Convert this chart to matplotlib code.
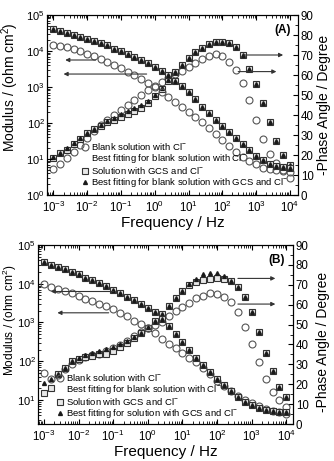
import numpy as np
import matplotlib.pyplot as plt
from matplotlib.lines import Line2D
from matplotlib.ticker import LogLocator, NullFormatter, MultipleLocator

plt.rcParams['font.family'] = ['Liberation Sans', 'DejaVu Sans']
plt.rcParams['mathtext.fontset'] = 'custom'
plt.rcParams['mathtext.rm'] = 'Liberation Sans'
plt.rcParams['mathtext.it'] = 'Liberation Sans:italic'
plt.rcParams['mathtext.bf'] = 'Liberation Sans:bold'
plt.rcParams['mathtext.default'] = 'regular'

# log10 of frequency (Hz), 5 points per decade
log_f = [-3.0, -2.8, -2.6, -2.4, -2.2, -2.0, -1.8, -1.6, -1.4, -1.2,
         -1.0, -0.8, -0.6, -0.4, -0.2, 0.0, 0.2, 0.4, 0.6, 0.8,
         1.0, 1.2, 1.4, 1.6, 1.8, 2.0, 2.2, 2.4, 2.6, 2.8,
         3.0, 3.2, 3.4, 3.6, 3.8, 4.0]
x_ticks = [1e-3, 1e-2, 1e-1, 1e0, 1e1, 1e2, 1e3, 1e4]

# ---- panel A ----  (modulus as log10 |Z|, phase in degrees)
a_blank_mod = [4.17, 4.14, 4.10, 4.06, 4.01, 3.93, 3.86, 3.78, 3.70, 3.61,
               3.52, 3.43, 3.33, 3.22, 3.11, 3.00, 2.87, 2.72, 2.58, 2.45,
               2.31, 2.18, 2.02, 1.85, 1.69, 1.53, 1.37, 1.20, 1.06, 0.94,
               0.85, 0.76, 0.72, 0.69, 0.67, 0.65]
a_blank_ph = [13.0, 15.3, 18.3, 21.3, 25.0, 28.5, 32.0, 35.0, 37.5, 40.0,
              42.5, 45.0, 47.5, 50.0, 52.5, 54.5, 56.5, 58.5, 60.5, 62.0,
              64.0, 66.0, 68.0, 69.5, 70.3, 69.5, 66.7, 62.5, 56.0, 47.5,
              37.3, 28.0, 20.4, 15.8, 12.5, 8.5]
a_gcs_mod = [4.60, 4.55, 4.50, 4.44, 4.39, 4.33, 4.28, 4.21, 4.16, 4.06,
             4.00, 3.92, 3.84, 3.75, 3.66, 3.55, 3.44, 3.33, 3.18, 3.02,
             2.85, 2.66, 2.45, 2.27, 2.08, 1.92, 1.74, 1.57, 1.41, 1.24,
             1.08, 0.96, 0.86, 0.80, 0.78, 0.75]
a_gcs_ph = [18.5, 20.8, 22.5, 25.5, 28.0, 30.8, 32.8, 34.7, 36.3, 37.5,
            39.2, 40.5, 41.8, 43.5, 46.0, 49.5, 53.0, 57.0, 61.5, 65.0,
            68.5, 71.5, 73.7, 75.5, 76.5, 76.5, 75.8, 74.0, 70.0, 63.0,
            55.5, 46.0, 36.5, 27.0, 20.0, 15.0]
a_fit_mod = a_gcs_mod
a_fit_ph = [19.0, 21.0, 23.5, 26.0, 28.5, 31.0, 33.0, 35.0, 36.8, 38.5,
            40.5, 42.0, 43.5, 45.0, 47.0, 50.0, 53.5, 57.5, 61.5, 65.0,
            68.5, 71.5, 73.7, 75.5, 76.5, 76.5, 75.8, 74.0, 70.0, 63.0,
            55.5, 46.0, 36.5, 27.0, 20.0, 15.0]
a_y_ticks = [1e0, 1e1, 1e2, 1e3, 1e4, 1e5]

# ---- panel B ----
b_blank_mod = [3.99, 3.92, 3.86, 3.81, 3.75, 3.68, 3.61, 3.55, 3.49, 3.42,
               3.34, 3.25, 3.16, 3.04, 2.95, 2.86, 2.72, 2.58, 2.45, 2.33,
               2.22, 2.09, 1.97, 1.83, 1.66, 1.50, 1.35, 1.22, 1.10, 1.00,
               0.91, 0.84, 0.77, 0.72, 0.68, 0.64]
b_blank_ph = [25.5, 22.5, 24.5, 27.5, 30.0, 32.0, 33.5, 34.5, 35.3, 36.5,
              38.0, 39.5, 41.5, 44.0, 46.5, 48.5, 50.0, 51.5, 54.3, 56.8,
              59.0, 61.0, 63.2, 64.5, 65.7, 65.5, 64.0, 61.5, 56.5, 49.0,
              40.0, 31.0, 22.5, 16.0, 12.0, 8.5]
b_gcs_mod = [4.55, 4.49, 4.44, 4.37, 4.31, 4.24, 4.16, 4.09, 4.02, 3.94,
             3.85, 3.76, 3.67, 3.57, 3.47, 3.38, 3.26, 3.10, 2.90, 2.70,
             2.50, 2.29, 2.08, 1.89, 1.72, 1.55, 1.39, 1.22, 1.07, 0.96,
             0.87, 0.79, 0.75, 0.72, 0.70, 0.70]
b_gcs_ph = [15.8, 17.9, 25.0, 28.0, 31.5, 32.5, 33.8, 34.2, 35.0, 35.3,
            36.5, 38.5, 40.5, 43.0, 45.6, 48.5, 52.0, 55.5, 59.5, 63.5,
            67.0, 69.8, 71.5, 72.5, 73.0, 73.3, 73.0, 72.0, 69.0, 63.7,
            56.4, 46.5, 35.5, 26.6, 18.7, 13.7]
b_fit_mod = b_gcs_mod
b_fit_ph = [20.8, 22.5, 25.0, 28.0, 31.5, 33.0, 34.5, 35.5, 36.5, 37.5,
            38.5, 40.0, 41.5, 43.5, 46.0, 49.0, 52.0, 55.5, 59.5, 63.5,
            67.0, 70.5, 73.0, 75.5, 76.0, 75.8, 74.5, 72.0, 69.0, 63.7,
            56.4, 46.5, 35.5, 26.6, 18.7, 13.7]
b_y_ticks = [1e1, 1e2, 1e3, 1e4, 1e5]

labels_a = [r'Blank solution with Cl$^{-}$',
            r'Best fitting for blank solution with Cl$^{-}$',
            r'Solution with GCS and Cl$^{-}$',
            r'Best fitting for blank solution with GCS and Cl$^{-}$']
labels_b = [r'Blank solution with Cl$^{-}$',
            r'Best fitting for blank solution with Cl$^{-}$',
            r'Solution with GCS and Cl$^{-}$',
            r'Best fitting for solution with GCS and Cl$^{-}$']

c_circ = '#555555'
c_sq = '#333333'
c_tri = '#1a1a1a'
freq = 10.0 ** np.array(log_f)


def panel(ax, blank_mod, blank_ph, gcs_mod, gcs_ph, fit_mod, fit_ph,
          labels, tag, ylim, yticks, xlim, arrows_l, arrows_r, leg_anchor,
          ylab_pos, ylab_size, y2lab_pos):
    ax2 = ax.twinx()
    ax.set_zorder(ax2.get_zorder() + 1)
    ax.patch.set_visible(False)

    ax.plot(freq, 10.0 ** np.array(blank_mod), 'o', mfc='none', mec=c_circ, ms=5, mew=0.8)
    ax2.plot(freq, blank_ph, 'o', mfc='none', mec=c_circ, ms=5, mew=0.8)
    ax.plot(freq, 10.0 ** np.array(gcs_mod), 's', mfc='#e8e8e8', mec=c_sq, ms=4.3, mew=0.8)
    ax2.plot(freq, gcs_ph, 's', mfc='#e8e8e8', mec=c_sq, ms=4.3, mew=0.8)
    ax.plot(freq, 10.0 ** np.array(fit_mod), '^', color=c_tri, ms=2.8)
    ax2.plot(freq, fit_ph, '^', color=c_tri, ms=2.8)

    ax.set_xscale('log')
    ax.set_yscale('log')
    ax.set_xticks(x_ticks)
    ax.set_yticks(yticks)
    ax.set_xlim(*xlim)
    ax.set_ylim(*ylim)
    ax2.set_ylim(0, 90)
    ax.xaxis.set_minor_locator(LogLocator(base=10, subs=np.arange(2, 10), numticks=20))
    ax.xaxis.set_minor_formatter(NullFormatter())
    ax.yaxis.set_minor_locator(LogLocator(base=10, subs=np.arange(2, 10), numticks=20))
    ax.yaxis.set_minor_formatter(NullFormatter())
    ax2.yaxis.set_major_locator(MultipleLocator(10))
    ax2.yaxis.set_minor_locator(MultipleLocator(5))

    ax.tick_params(which='both', direction='in', top=True, labelsize=8.3, pad=2)
    ax.tick_params(axis='y', labelsize=8, pad=1.5)
    ax.tick_params(axis='x', pad=3.5)
    ax.tick_params(which='major', length=3.5)
    ax.tick_params(which='minor', length=2)
    ax2.tick_params(which='both', direction='in', labelsize=8.3, pad=2)
    ax2.tick_params(which='major', length=3.5)
    ax2.tick_params(which='minor', length=2)

    ax.set_xlabel('Frequency / Hz', fontsize=11, labelpad=1)
    ax.set_ylabel(r'Modulus / (ohm cm$^{2}$)', fontsize=ylab_size)
    ax.yaxis.set_label_coords(*ylab_pos)
    ax2.set_ylabel('-Phase Angle / Degree', fontsize=10)
    ax2.yaxis.set_label_coords(*y2lab_pos)

    ax.text(0.97, 0.95, tag, transform=ax.transAxes, ha='right', va='top',
            fontsize=8.5, fontweight='bold')

    for x0, x1, y in arrows_l:
        ax.annotate('', xy=(10 ** x1, 10 ** y), xytext=(10 ** x0, 10 ** y),
                    arrowprops=dict(arrowstyle='-|>', color='#333333', lw=0.8,
                                    mutation_scale=6, shrinkA=0, shrinkB=0))
    for x0, x1, y in arrows_r:
        ax2.annotate('', xy=(10 ** x1, y), xytext=(10 ** x0, y),
                     arrowprops=dict(arrowstyle='-|>', color='#333333', lw=0.8,
                                     mutation_scale=6, shrinkA=0, shrinkB=0))

    handles = [
        Line2D([], [], ls='none', marker='o', mfc='none', mec=c_circ, ms=5, mew=0.8),
        Line2D([], [], ls='none', marker='None'),
        Line2D([], [], ls='none', marker='s', mfc='#e8e8e8', mec=c_sq, ms=4.3, mew=0.8),
        Line2D([], [], ls='none', marker='^', color=c_tri, ms=2.8),
    ]
    ax.legend(handles, labels, loc='lower left', bbox_to_anchor=leg_anchor,
              frameon=False, fontsize=6.8, handlelength=0.8, handletextpad=0.25,
              labelspacing=0.0, borderaxespad=0, borderpad=0,
              handleheight=0.5)
    return ax2


fig = plt.figure(figsize=(3.34, 4.61), dpi=100)
ax_a = fig.add_axes([47 / 334, 1 - 195 / 461, 251 / 334, 180 / 461])
ax_b = fig.add_axes([38 / 334, 1 - 424 / 461, 255 / 334, 179 / 461])

panel(ax_a, a_blank_mod, a_blank_ph, a_gcs_mod, a_gcs_ph, a_fit_mod, a_fit_ph,
      labels_a, '(A)', (1, 1e5), a_y_ticks, (10 ** -3.19, 10 ** 4.24),
      [(-1.75, -2.65, 3.75), (-0.24, -2.7, 3.36)],
      [(2.64, 3.8, 70.0), (2.47, 3.6, 61.7)],
      (0.135, 0.035), (-0.105, 0.6), 10, (1.075, 0.5))

panel(ax_b, b_blank_mod, b_blank_ph, b_gcs_mod, b_gcs_ph, b_fit_mod, b_fit_ph,
      labels_b, '(B)', (10 ** 0.38, 1e5), b_y_ticks, (10 ** -3.17, 10 ** 4.19),
      [(-0.99, -2.8, 3.8), (-1.13, -2.61, 3.25)],
      [(2.6, 3.68, 73.2), (2.6, 3.68, 60.3)],
      (0.07, 0.02), (-0.075, 0.58), 8.6, (1.09, 0.46))

fig.savefig('out.png', dpi=100)
